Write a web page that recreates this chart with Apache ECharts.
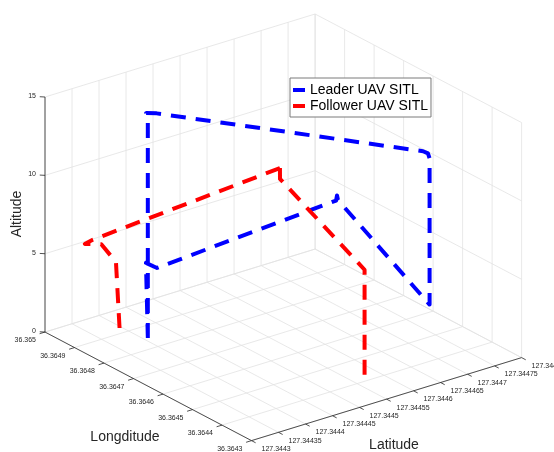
<!DOCTYPE html>
<html>
<head>
<meta charset="utf-8">
<script src="https://cdn.jsdelivr.net/npm/echarts@6/dist/echarts.min.js"></script>
<style>
html, body { margin: 0; padding: 0; background: #fff; }
#chart { width: 554px; height: 452px; }
</style>
</head>
<body>
<div id="chart"></div>
<script>
// ---- Axis ticks ----
const latTicks = [127.3443, 127.34435, 127.3444, 127.34445, 127.3445, 127.34455,
                  127.3446, 127.34465, 127.3447, 127.34475, 127.3448];
const latTickLabels = ['127.3443', '127.34435', '127.3444', '127.34445', '127.3445', '127.34455',
                       '127.3446', '127.34465', '127.3447', '127.34475', '127.3448'];
const lonTicks = [36.3643, 36.3644, 36.3645, 36.3646, 36.3647, 36.3648, 36.3649, 36.365];
const lonTickLabels = ['36.3643', '36.3644', '36.3645', '36.3646', '36.3647', '36.3648', '36.3649', '36.365'];
const altTicks = [0, 5, 10, 15];
const altTickLabels = ['0', '5', '10', '15'];

// ---- Flight paths (latitude, longitude, altitude) ----
const leaderLat = [127.344407, 127.344407, 127.344405, 127.344415, 127.344642, 127.3446465, 127.344648,
                   127.344648, 127.3447735, 127.3447775, 127.34477, 127.344411, 127.3444093, 127.34441];
const leaderLon = [36.3648474, 36.3648474, 36.3648495, 36.364832, 36.3643448, 36.3643364, 36.3643336,
                   36.3643336, 36.364874, 36.3648845, 36.364874, 36.3648236, 36.3648579, 36.364853];
const leaderAlt = [0, 13.9, 14.35, 14.4, 14.4, 14.3, 14.0,
                   4.66, 4.66, 4.8, 4.66, 4.66, 4.66, 0];

const followerLat = [127.3445785, 127.3445785, 127.3447025, 127.3447055, 127.3447125, 127.3447055,
                     127.3443275, 127.3443125, 127.344345, 127.3443763, 127.344381];
const followerLon = [36.3644267, 36.3644267, 36.3649405, 36.3649461, 36.364944, 36.3649461,
                     36.3648887, 36.364888, 36.3648915, 36.3648992, 36.3648943];
const followerAlt = [0, 6.7, 6.1, 6.7, 6.8, 6.7,
                     6.7, 6.6, 6.2, 4.66, 0];

// ---- View (azimuth / elevation) and plot box ----
const LAT_MIN = 127.3443, LAT_MAX = 127.3448;
const LON_MIN = 36.3643, LON_MAX = 36.365;
const ALT_MIN = 0, ALT_MAX = 15;
const AZ = 37.4 * Math.PI / 180;
const EL = 23.7 * Math.PI / 180;
const BOX = [1, 1, 0.755];
const SCALE = 340; // pixels per box unit

function proj(lat, lon, alt) {
  const x = (lat - LAT_MIN) / (LAT_MAX - LAT_MIN) * BOX[0];
  const y = (lon - LON_MIN) / (LON_MAX - LON_MIN) * BOX[1];
  const z = (alt - ALT_MIN) / (ALT_MAX - ALT_MIN) * BOX[2];
  const u = x * Math.cos(AZ) - y * Math.sin(AZ);
  const v = Math.sin(EL) * (x * Math.sin(AZ) + y * Math.cos(AZ)) + z * Math.cos(EL);
  return [u, v];
}

// extent of the projected plot box
const corners = [];
[LAT_MIN, LAT_MAX].forEach(a => [LON_MIN, LON_MAX].forEach(b => [ALT_MIN, ALT_MAX].forEach(c => corners.push(proj(a, b, c)))));
const uMin = Math.min(...corners.map(p => p[0])), uMax = Math.max(...corners.map(p => p[0]));
const vMin = Math.min(...corners.map(p => p[1])), vMax = Math.max(...corners.map(p => p[1]));

// ---- Grid lines on floor and back walls ----
const gridSegs = [];
latTicks.forEach(t => {
  gridSegs.push([...proj(t, LON_MIN, ALT_MIN), ...proj(t, LON_MAX, ALT_MIN)]);
  gridSegs.push([...proj(t, LON_MAX, ALT_MIN), ...proj(t, LON_MAX, ALT_MAX)]);
});
lonTicks.forEach(t => {
  gridSegs.push([...proj(LAT_MIN, t, ALT_MIN), ...proj(LAT_MAX, t, ALT_MIN)]);
  gridSegs.push([...proj(LAT_MAX, t, ALT_MIN), ...proj(LAT_MAX, t, ALT_MAX)]);
});
altTicks.forEach(t => {
  gridSegs.push([...proj(LAT_MIN, LON_MAX, t), ...proj(LAT_MAX, LON_MAX, t)]);
  gridSegs.push([...proj(LAT_MAX, LON_MAX, t), ...proj(LAT_MAX, LON_MIN, t)]);
});

// ---- Axis lines and tick marks ----
const dLat = (LAT_MAX - LAT_MIN) * 0.02, dLon = (LON_MAX - LON_MIN) * 0.02;
const axisSegs = [
  [...proj(LAT_MIN, LON_MIN, ALT_MIN), ...proj(LAT_MIN, LON_MAX, ALT_MIN)],
  [...proj(LAT_MIN, LON_MIN, ALT_MIN), ...proj(LAT_MAX, LON_MIN, ALT_MIN)],
  [...proj(LAT_MIN, LON_MAX, ALT_MIN), ...proj(LAT_MIN, LON_MAX, ALT_MAX)]
];
lonTicks.forEach(t => axisSegs.push([...proj(LAT_MIN, t, ALT_MIN), ...proj(LAT_MIN - dLat, t, ALT_MIN)]));
latTicks.forEach(t => axisSegs.push([...proj(t, LON_MIN, ALT_MIN), ...proj(t, LON_MIN - dLon, ALT_MIN)]));
altTicks.forEach(t => axisSegs.push([...proj(LAT_MIN, LON_MAX, t), ...proj(LAT_MIN - dLat * 0.55, LON_MAX + dLon * 0.55, t)]));

// ---- Tick labels ----
const tickLabels = [];
lonTicks.forEach((t, i) => tickLabels.push({ value: proj(LAT_MIN, t, ALT_MIN), text: lonTickLabels[i], dx: -9, dy: 8, align: 'right' }));
latTicks.forEach((t, i) => tickLabels.push({ value: proj(t, LON_MIN, ALT_MIN), text: latTickLabels[i], dx: 10, dy: 8.5, align: 'left' }));
altTicks.forEach((t, i) => tickLabels.push({ value: proj(LAT_MIN, LON_MAX, t), text: altTickLabels[i], dx: -9, dy: -1, align: 'right' }));

const leaderPts = leaderLat.map((la, i) => proj(la, leaderLon[i], leaderAlt[i]));
const followerPts = followerLat.map((la, i) => proj(la, followerLon[i], followerAlt[i]));

const FONT = '"Liberation Sans", Arial, Helvetica, sans-serif';
const AXIS_COLOR = '#262626';

function segRenderer(color, width) {
  return function (params, api) {
    const p1 = api.coord([api.value(0), api.value(1)]);
    const p2 = api.coord([api.value(2), api.value(3)]);
    return {
      type: 'line',
      shape: { x1: p1[0], y1: p1[1], x2: p2[0], y2: p2[1] },
      style: { stroke: color, lineWidth: width }
    };
  };
}

const chart = echarts.init(document.getElementById('chart'), null, { renderer: 'canvas' });
chart.setOption({
  animation: false,
  backgroundColor: '#ffffff',
  grid: {
    left: 45, top: 14,
    width: (uMax - uMin) * SCALE,
    height: (vMax - vMin) * SCALE
  },
  xAxis: { type: 'value', min: uMin, max: uMax, show: false },
  yAxis: { type: 'value', min: vMin, max: vMax, show: false },
  legend: {
    data: ['Leader UAV SITL', 'Follower UAV SITL'],
    orient: 'vertical',
    left: 290, top: 78,
    icon: 'rect',
    itemWidth: 12, itemHeight: 4, itemGap: 2,
    padding: [5, 3, 4, 3],
    backgroundColor: '#ffffff',
    borderColor: '#7a7a7a', borderWidth: 1,
    textStyle: { fontFamily: FONT, fontSize: 14, color: '#000' },
    selectedMode: false
  },
  graphic: [
    { type: 'text', x: 17, y: 214, rotation: Math.PI / 2,
      style: { text: 'Altitude', font: '14px ' + FONT, fill: AXIS_COLOR, textAlign: 'center', textVerticalAlign: 'middle' } },
    { type: 'text', x: 125, y: 437,
      style: { text: 'Longditude', font: '14px ' + FONT, fill: AXIS_COLOR, textAlign: 'center', textVerticalAlign: 'middle' } },
    { type: 'text', x: 394, y: 445,
      style: { text: 'Latitude', font: '14px ' + FONT, fill: AXIS_COLOR, textAlign: 'center', textVerticalAlign: 'middle' } }
  ],
  series: [
    {
      type: 'custom', name: 'gridlines', silent: true, z: 1,
      data: gridSegs, encode: { x: [0, 2], y: [1, 3] },
      renderItem: segRenderer('#e2e2e2', 0.8)
    },
    {
      type: 'custom', name: 'axes', silent: true, z: 2,
      data: axisSegs, encode: { x: [0, 2], y: [1, 3] },
      renderItem: segRenderer(AXIS_COLOR, 0.8)
    },
    {
      type: 'custom', name: 'ticklabels', silent: true, z: 2,
      data: tickLabels.map(d => d.value), encode: { x: 0, y: 1 },
      renderItem: function (params, api) {
        const d = tickLabels[params.dataIndex];
        const p = api.coord([api.value(0), api.value(1)]);
        return {
          type: 'text',
          x: p[0] + d.dx, y: p[1] + d.dy,
          style: { text: d.text, font: '7px ' + FONT, fill: AXIS_COLOR, align: d.align, verticalAlign: 'middle' }
        };
      }
    },
    {
      type: 'line', name: 'Leader UAV SITL', data: leaderPts, z: 5,
      symbol: 'none', showSymbol: false, clip: false,
      itemStyle: { color: '#0000ff' },
      lineStyle: { color: '#0000ff', width: 4, type: [15, 10], join: 'round' }
    },
    {
      type: 'line', name: 'Follower UAV SITL', data: followerPts, z: 5,
      symbol: 'none', showSymbol: false, clip: false,
      itemStyle: { color: '#ff0000' },
      lineStyle: { color: '#ff0000', width: 4, type: [15, 10], join: 'round' }
    }
  ]
});
</script>
</body>
</html>
